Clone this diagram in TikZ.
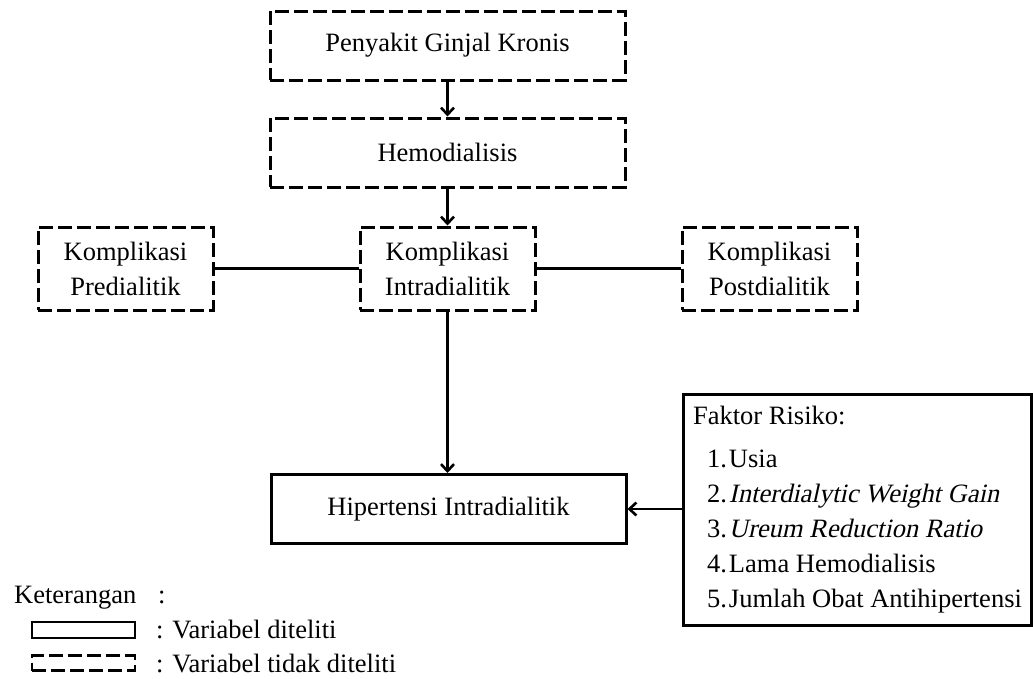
\documentclass[tikz,border=0pt]{standalone}
\usepackage{fontspec}
\setmainfont{Liberation Serif}[ItalicFont={Liberation Serif},ItalicFeatures={FakeSlant=0.22}]
\usetikzlibrary{arrows.meta}
\begin{document}
\begin{tikzpicture}[x=1pt,y=-1pt,
  font=\fontsize{26.5}{35}\selectfont,
  dbox/.style={draw, line width=3pt, dash pattern=on 14pt off 5pt, align=center, inner sep=0pt},
  sbox/.style={draw, line width=3pt, align=center, inner sep=0pt},
  conn/.style={line width=2.6pt},
  arr/.style={line width=2.6pt, -{Straight Barb[length=7pt,width=13pt,line width=2.6pt]}},
  wide/.style={minimum width=355pt, minimum height=69pt},
  comp/.style={minimum width=175pt, minimum height=83pt},
]
\useasboundingbox (0,0) rectangle (1033,678);

\node[dbox, wide] (pgk) at (447.5,45.5) {Penyakit Ginjal Kronis};
\node[dbox, wide] (hd) at (447.5,152.5) {Hemodialisis};
\node[dbox, comp] (pre) at (125.5,268.5) {Komplikasi\\Predialitik};
\node[dbox, comp] (intra) at (447.5,268.5) {Komplikasi\\Intradialitik};
\node[dbox, comp] (post) at (769.5,268.5) {Komplikasi\\Postdialitik};
\node[sbox, wide] (hip) at (448.5,509) {Hipertensi Intradialitik};
\node[sbox, anchor=north west, minimum width=348pt, minimum height=231pt, inner xsep=4pt, align=left] (fr) at (682,393)
 {Faktor Risiko:\\[8pt]
  \hspace*{14pt}1.\hspace{2pt}Usia\\
  \hspace*{14pt}2.\hspace{2pt}\textit{Interdialytic Weight Gain}\\
  \hspace*{14pt}3.\hspace{2pt}\textit{Ureum Reduction Ratio}\\
  \hspace*{14pt}4.\hspace{2pt}Lama Hemodialisis\\
  \hspace*{14pt}5.\hspace{2pt}Jumlah Obat Antihipertensi};

\draw[arr] (pgk.south) -- (hd.north);
\draw[arr] (hd.south) -- (intra.north);
\draw[conn] (pre.east) -- (intra.west);
\draw[conn] (intra.east) -- (post.west);
\draw[arr] (intra.south) -- (intra.south |- hip.north);
\draw[arr] (fr.west |- hip.east) -- (hip.east);

% legend
\node[anchor=base west, inner sep=0pt] (ket) at (14,603) {Keterangan};
\node[anchor=base west, inner sep=0pt] (ketc) at (158,603) {:};
\node[sbox, line width=2.6pt, minimum width=103pt, minimum height=16pt] (lsolid) at (83.5,630) {};
\node[anchor=base west, inner sep=0pt] (lsolidt) at (156,638) {: Variabel diteliti};
\node[dbox, line width=2.6pt, minimum width=103pt, minimum height=15pt] (ldash) at (83.5,663) {};
\node[anchor=base west, inner sep=0pt] (ldasht) at (156,672) {: Variabel tidak diteliti};
\end{tikzpicture}
\end{document}
